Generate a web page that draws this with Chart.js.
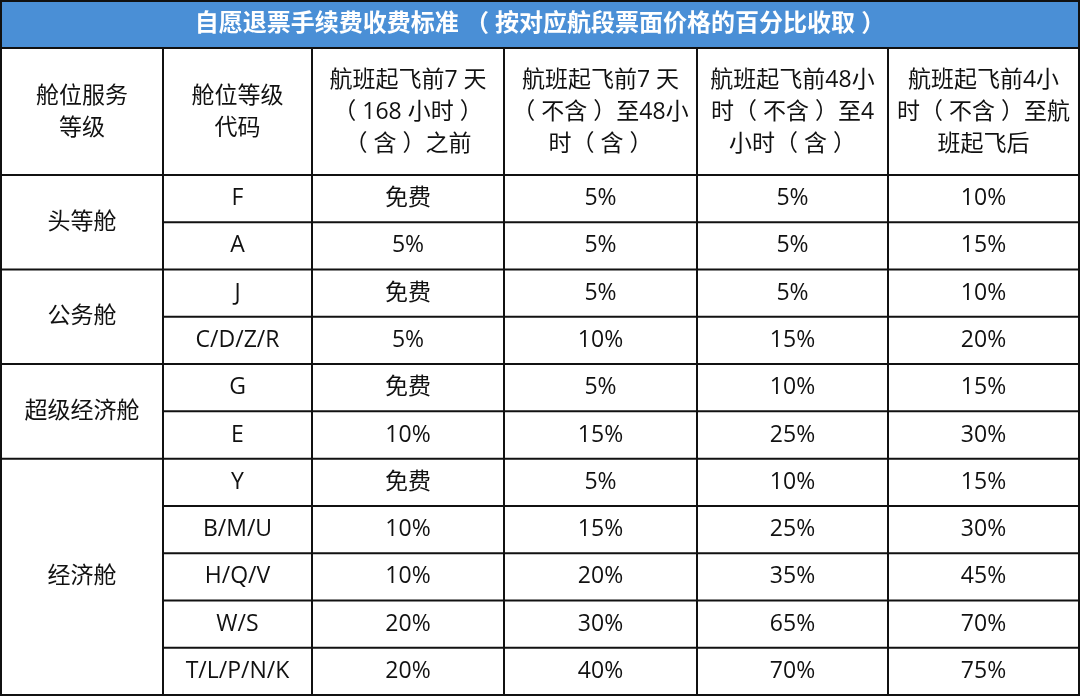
<!DOCTYPE html>
<html><head><meta charset="utf-8">
<script src="https://cdn.jsdelivr.net/npm/chart.js@4"></script>
<style>html,body{margin:0;padding:0;background:#fff}canvas{display:block}</style>
</head><body>
<canvas id="c" width="1080" height="696"></canvas>
<script>
const title = "自愿退票手续费收费标准 （ 按对应航段票面价格的百分比收取 ）";
const headers = [
  ["舱位服务","等级"],
  ["舱位等级","代码"],
  ["航班起飞前7 天","（ 168 小时 ）","（ 含 ）之前"],
  ["航班起飞前7 天","（ 不含 ）至48小","时（ 含 ）"],
  ["航班起飞前48小","时（ 不含 ）至4","小时（ 含 ）"],
  ["航班起飞前4小","时（ 不含 ）至航","班起飞后"]
];
const groups = ["头等舱","公务舱","超级经济舱","经济舱"];
const groupSpans = [2,2,2,5];
const codes = ["F","A","J","C/D/Z/R","G","E","Y","B/M/U","H/Q/V","W/S","T/L/P/N/K"];
const fee7d = ["免费","5%","免费","5%","免费","10%","免费","10%","10%","20%","20%"];
const fee48h = ["5%","5%","5%","10%","5%","15%","5%","15%","20%","30%","40%"];
const fee4h = ["5%","5%","5%","15%","10%","25%","10%","25%","35%","65%","70%"];
const feeAfter = ["10%","15%","10%","20%","15%","30%","15%","30%","45%","70%","75%"];

const colX = [1,163,312,504,697,888,1079];
const titleBottom = 48, headBottom = 175, tableBottom = 695;
const FONT = '"Open Sans","Noto Sans CJK SC",sans-serif';

const tablePlugin = {
  id:'table',
  afterDraw(chart){
    const ctx = chart.ctx, xs = chart.scales.x, ys = chart.scales.y;
    const X = v=>xs.getPixelForValue(v), Y = v=>ys.getPixelForValue(v);
    const n = codes.length, rowH = (tableBottom-headBottom)/n;
    const rowY = i=>headBottom+i*rowH;
    ctx.save();
    ctx.fillStyle='#4a8fd6';
    ctx.fillRect(X(0),Y(0),X(1080)-X(0),Y(titleBottom)-Y(0));
    ctx.fillStyle='#fff'; ctx.textAlign='center'; ctx.textBaseline='middle';
    ctx.font='bold 24px '+FONT;
    ctx.fillText(title, X(540), Y(24));
    ctx.fillStyle='#111';
    ctx.font='23px '+FONT;
    headers.forEach((lines,c)=>{
      const cx=(colX[c]+colX[c+1])/2, lh=32, mid=(titleBottom+headBottom)/2+1;
      lines.forEach((t,k)=>ctx.fillText(t,X(cx),Y(mid+(k-(lines.length-1)/2)*lh)));
    });
    const cols=[codes,fee7d,fee48h,fee4h,feeAfter];
    for(let i=0;i<n;i++){
      cols.forEach((arr,c)=>{
        const cx=(colX[c+1]+colX[c+2])/2;
        ctx.fillText(arr[i],X(cx),Y(rowY(i)+rowH/2));
      });
    }
    let r=0;
    groups.forEach((g,gi)=>{
      const y0=rowY(r), y1=rowY(r+groupSpans[gi]);
      ctx.fillText(g,X((colX[0]+colX[1])/2),Y((y0+y1)/2));
      r+=groupSpans[gi];
    });
    ctx.strokeStyle='#111'; ctx.lineWidth=2;
    const line=(x0,y0,x1,y1)=>{ctx.beginPath();ctx.moveTo(X(x0),Y(y0));ctx.lineTo(X(x1),Y(y1));ctx.stroke();};
    line(0,1,1080,1); line(1,0,1,696); line(1079,0,1079,696);
    line(0,titleBottom,1080,titleBottom); line(0,headBottom,1080,headBottom); line(0,tableBottom,1080,tableBottom);
    colX.slice(1,-1).forEach(x=>line(x,titleBottom,x,tableBottom));
    r=0;
    groupSpans.forEach(s=>{
      for(let k=1;k<s;k++) line(colX[1],rowY(r+k),1080,rowY(r+k));
      r+=s; if(r<n) line(0,rowY(r),1080,rowY(r));
    });
    ctx.restore();
  }
};

new Chart(document.getElementById('c'),{
  type:'scatter',
  data:{datasets:[{data:[]}]},
  options:{
    responsive:false, animation:false, devicePixelRatio:1,
    layout:{padding:0},
    plugins:{legend:{display:false},tooltip:{enabled:false}},
    scales:{
      x:{type:'linear',min:0,max:1080,display:false},
      y:{type:'linear',min:0,max:696,reverse:true,display:false}
    }
  },
  plugins:[tablePlugin]
});
</script>
</body></html>
